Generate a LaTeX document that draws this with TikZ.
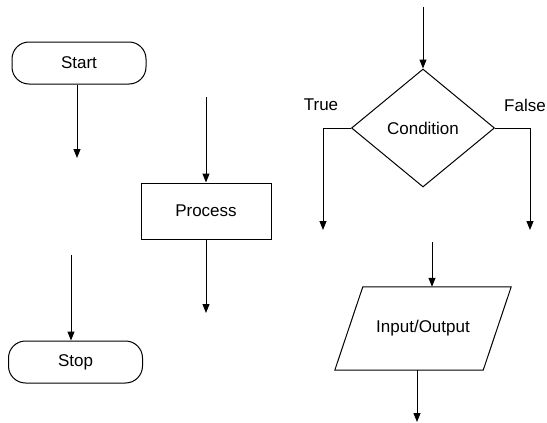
\documentclass[tikz,border=0pt]{standalone}
\usepackage{fontspec}
\setmainfont{Liberation Sans}
\usetikzlibrary{arrows.meta, positioning, calc, shapes.geometric}

\begin{document}
\begin{tikzpicture}[
        x=1pt, y=-1pt,
        >={Triangle[length=9pt, width=7pt]},
        every node/.style={font=\fontsize{17}{20}\selectfont},
        terminal/.style={rectangle, rounded corners=17pt, draw, line width=1pt, minimum width=134pt, minimum height=42pt, inner sep=0pt},
        process_box/.style={rectangle, draw, line width=1pt, minimum width=130pt, minimum height=56pt, inner sep=0pt},
        decision/.style={diamond, draw, line width=1pt, minimum width=143pt, minimum height=118pt, inner sep=0pt},
        io_box/.style={rectangle, minimum width=176pt, minimum height=83pt, inner sep=0pt},
        flow/.style={->, line width=1pt}
    ]
        \useasboundingbox (0,0) rectangle (547,423);

        \node[terminal] (start) at (79,63) {Start};
        \node[terminal] (stop) at (75.5,362) {Stop};
        \node[process_box] (proc) at (206,211) {Process};
        \node[decision] (cond) at (423,128) {Condition};
        \node[io_box] (io) at (423,328.5) {Input/Output};
        % slanted outline of the input/output box
        \draw[line width=1pt] (io.south west) -- ($(io.north west)+(28,0)$)
            -- (io.north east) -- ($(io.south east)-(28,0)$) -- cycle;

        \node (true) at (321,105) {True};
        \node (false) at (525,105) {False};

        % free ends
        \coordinate (s1) at (77,158);
        \coordinate (t1) at (71,255);
        \coordinate (p1) at (206,97);
        \coordinate (p2) at (206,313);
        \coordinate (c1) at (423,7);
        \coordinate (c2) at (323,230);
        \coordinate (c3) at (530,230);
        \coordinate (i1) at (432,242);
        \coordinate (i2) at (417,422);

        % Edges
        \draw[flow] (start.south -| s1) -- (s1);
        \draw[flow] (t1) -- (t1 |- stop.north);
        \draw[flow] (p1) -- (proc.north);
        \draw[flow] (proc.south) -- (p2);
        \draw[flow] (c1) -- (cond.north);
        \draw[flow] (cond.west) -- (c2 |- cond.west) -- (c2);
        \draw[flow] (cond.east) -- (c3 |- cond.east) -- (c3);
        \draw[flow] (i1) -- (i1 |- io.north);
        \draw[flow] (i2 |- io.south) -- (i2);
    \end{tikzpicture}
\end{document}
